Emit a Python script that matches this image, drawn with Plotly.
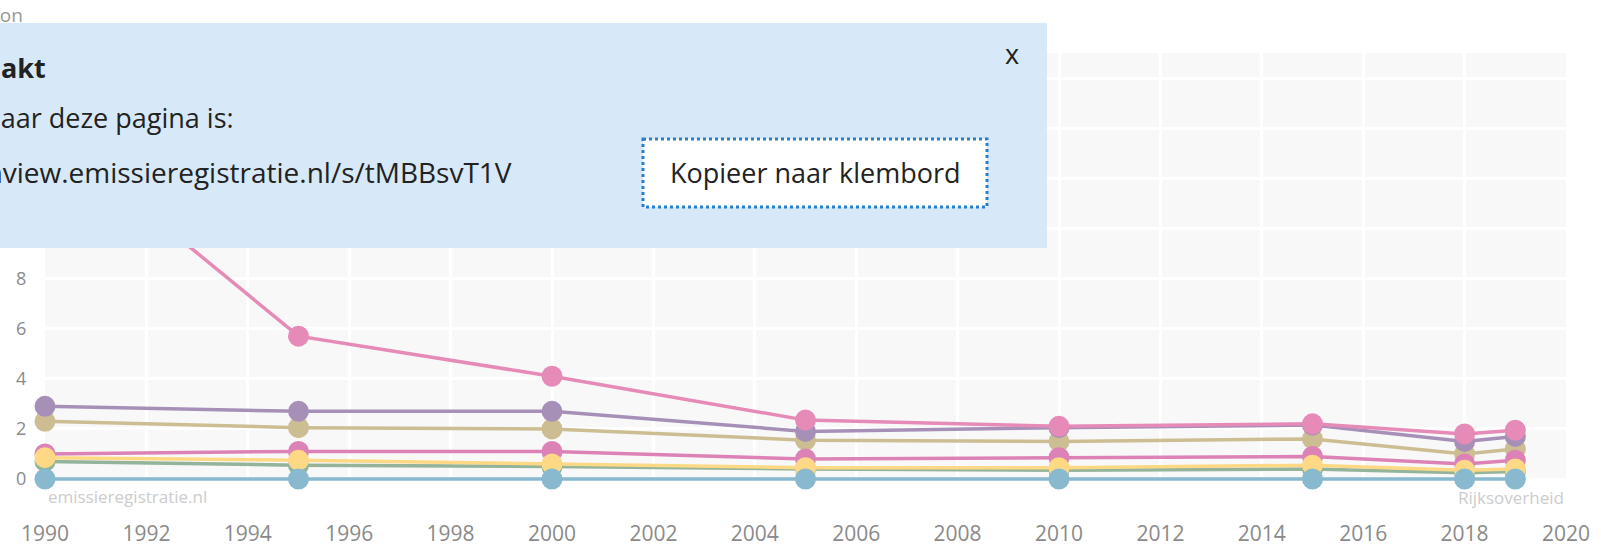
import plotly.graph_objects as go

# jaren en reeksen
jaren = [1990, 1995, 2000, 2005, 2010, 2015, 2018, 2019]

reeks_roze = [14.0, 5.7, 4.1, 2.35, 2.1, 2.2, 1.8, 1.95]
reeks_paars = [2.9, 2.7, 2.7, 1.9, 2.05, 2.15, 1.5, 1.7]
reeks_beige = [2.3, 2.05, 2.0, 1.55, 1.5, 1.6, 1.0, 1.2]
reeks_roze2 = [1.0, 1.1, 1.1, 0.8, 0.85, 0.9, 0.6, 0.75]
reeks_geel = [0.85, 0.75, 0.6, 0.45, 0.45, 0.55, 0.35, 0.4]
reeks_groen = [0.7, 0.55, 0.5, 0.4, 0.35, 0.4, 0.25, 0.3]
reeks_blauw = [0.0, 0.0, 0.0, 0.0, 0.0, 0.0, 0.0, 0.0]

W, H = 1601, 555
L, R, T, B = 45, 35, 53, 74
PW, PH = W - L - R, H - T - B
FONT = "Open Sans"


def px(x):
    return (x - L) / PW


def py(y):
    return (H - B - y) / PH


series = [
    ("beige", reeks_beige, "#cdbd92"),
    ("paars", reeks_paars, "#a690b8"),
    ("roze", reeks_roze, "#e68ab8"),
    ("groen", reeks_groen, "#93b39a"),
    ("roze 2", reeks_roze2, "#dc82b6"),
    ("geel", reeks_geel, "#fdd985"),
    ("blauw", reeks_blauw, "#88b9cf"),
]

fig = go.Figure()
for name, vals, color in series:
    fig.add_trace(go.Scatter(
        x=jaren,
        y=vals,
        name=name,
        mode="lines+markers",
        line=dict(color=color, width=3.5),
        marker=dict(color=color, size=21),
        cliponaxis=False,
        showlegend=False,
    ))

fig.update_xaxes(
    range=[1990, 2020], dtick=2, showgrid=True, gridcolor="white", gridwidth=3,
    zeroline=False, showline=False, ticks="outside", ticklen=34, automargin=False,
    tickcolor="rgba(0,0,0,0)", tickfont=dict(family=FONT, size=21, color="#8a8a8a"),
)
fig.update_yaxes(
    range=[-0.08, 17], dtick=2, showgrid=True, gridcolor="white", gridwidth=3,
    zeroline=False, showline=False, ticks="outside", ticklen=14, automargin=False,
    tickcolor="rgba(0,0,0,0)", tickfont=dict(family=FONT, size=18, color="#8a8a8a"),
)

# pop-up "link gemaakt"
shapes = [
    dict(type="rect", xref="paper", yref="paper", layer="above",
         x0=px(-10), x1=px(1047), y0=py(23), y1=py(248),
         fillcolor="#d7e9f8", line=dict(width=0)),
    dict(type="rect", xref="paper", yref="paper", layer="above",
         x0=px(643), x1=px(987), y0=py(139), y1=py(207),
         fillcolor="white", line=dict(color="#2a7fc9", width=3, dash="dot")),
]

annotations = [
    dict(text="kiloton", x=px(25), y=py(15), xanchor="right",
         font=dict(size=19, color="#999999")),
    dict(text="<b>Link gemaakt</b>", x=px(48), y=py(68), xanchor="right",
         font=dict(size=27, color="#222222")),
    dict(text="De link naar deze pagina is:", x=px(236), y=py(117), xanchor="right",
         font=dict(size=27, color="#222222")),
    dict(text="https://dataview.emissieregistratie.nl/s/tMBBsvT1V", x=px(514), y=py(172),
         xanchor="right", font=dict(size=28, color="#222222")),
    dict(text="x", x=px(1012), y=py(53), xanchor="center",
         font=dict(size=27, color="#222222")),
    dict(text="Kopieer naar klembord", x=px(815), y=py(172), xanchor="center",
         font=dict(size=27, color="#222222")),
    dict(text="emissieregistratie.nl", x=px(46), y=py(496), xanchor="left",
         font=dict(size=17, color="#cccccc")),
    dict(text="Rijksoverheid", x=px(1566), y=py(497), xanchor="right",
         font=dict(size=17, color="#cccccc")),
]
for a in annotations:
    a.update(xref="paper", yref="paper", yanchor="middle", showarrow=False)
    a["font"]["family"] = FONT

fig.update_layout(
    width=W, height=H,
    margin=dict(l=L, r=R, t=T, b=B),
    paper_bgcolor="white",
    plot_bgcolor="#f8f8f8",
    font=dict(family=FONT),
    shapes=shapes,
    annotations=annotations,
)

# figuur tegen de rand van de pagina zetten (geen body-marge)
fig.write_html(
    "out.html",
    config={"displayModeBar": False},
    post_script="document.body.style.margin = '0';",
)
